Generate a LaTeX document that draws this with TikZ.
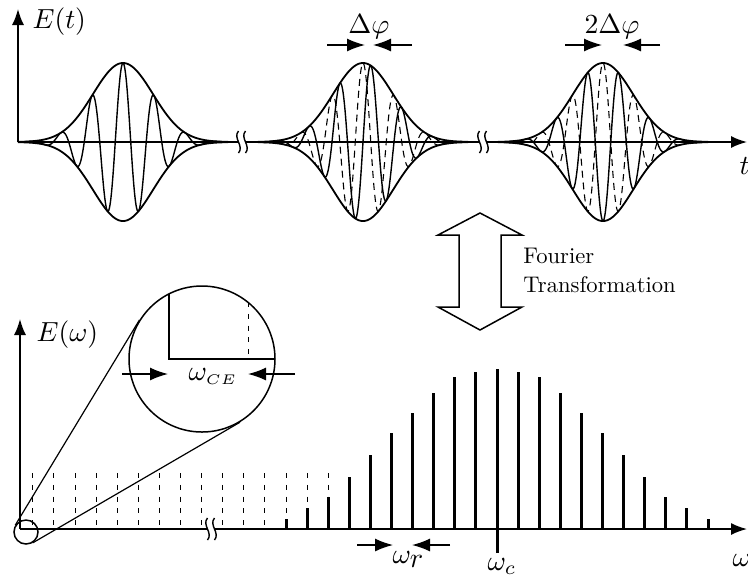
\documentclass[tikz,border=0pt]{standalone}
\usetikzlibrary{arrows.meta}
\begin{document}
\begin{tikzpicture}[x=0.5pt,y=-0.5pt,
  axis/.style={line width=0.8pt,-{Latex[length=8pt,width=6pt]}},
  env/.style={line width=0.9pt},
  carrier/.style={line width=0.7pt},
  carrierd/.style={line width=0.55pt,dash pattern=on 3.5pt off 2.5pt},
  comb/.style={line width=1.5pt},
  combd/.style={line width=0.5pt,dash pattern=on 2.5pt off 3.4pt},
  marker/.style={line width=0.7pt,-{Latex[length=9pt,width=6.5pt]}},
  lbl/.style={inner sep=0pt,anchor=base west,scale=1.38},
  wlbl/.style={inner sep=0pt,anchor=base west,scale=1.4},
  ftext/.style={inner sep=0pt,anchor=base west,scale=1.13},
  brk/.pic={
    \fill[white] (-3.5,-1.6) rectangle (3.5,1.6);
    \draw[line width=0.7pt] (-3.5,-11) .. controls (-9.5,-4) and (2.5,4) .. (-3.5,11);
    \draw[line width=0.7pt] (3.5,-11) .. controls (-2.5,-4) and (9.5,4) .. (3.5,11);
  }]
\useasboundingbox (0,0) rectangle (748,575);

% ---------- top: time domain ----------
\coordinate (Ot) at (18,142);
\coordinate (Yt) at (18,9);
\coordinate (Xt) at (747,142);
\draw[axis] (Ot) -- (Xt);
\draw[axis] (Ot) -- (Yt);
\node[lbl] (Et) at (32,28) {$E(t)$};
\node[lbl] (tl) at (739,174) {$t$};

% pulse 1
\draw[env] plot[domain=-105:105,samples=200] ({123+\x},{142-79*exp(-\x*\x/1800)});
\draw[env] plot[domain=-105:105,samples=200] ({123+\x},{142+79*exp(-\x*\x/1800)});
\draw[carrier] plot[domain=-105:105,samples=401] ({123+\x},{142-79*exp(-\x*\x/1800)*cos(\x/31*360)});

% pulse 2
\draw[env] plot[domain=-105:105,samples=200] ({363+\x},{142-79*exp(-\x*\x/1800)});
\draw[env] plot[domain=-105:105,samples=200] ({363+\x},{142+79*exp(-\x*\x/1800)});
\draw[carrierd] plot[domain=-105:105,samples=401] ({363+\x},{142-79*exp(-\x*\x/1800)*cos(\x/31*360)});
\draw[carrier] plot[domain=-105:105,samples=401] ({363+\x},{142-79*exp(-\x*\x/1800)*sin(\x/31*360)});

% pulse 3
\draw[env] plot[domain=-105:105,samples=200] ({603+\x},{142-79*exp(-\x*\x/1800)});
\draw[env] plot[domain=-105:105,samples=200] ({603+\x},{142+79*exp(-\x*\x/1800)});
\draw[carrierd] plot[domain=-105:105,samples=401] ({603+\x},{142-79*exp(-\x*\x/1800)*cos(\x/31*360)});
\draw[carrier] plot[domain=-105:105,samples=401] ({603+\x},{142+79*exp(-\x*\x/1800)*cos(\x/31*360)});

% axis breaks
\pic at (242,142) {brk};
\pic at (483,142) {brk};

% phase markers
\coordinate (a1s) at (327,45); \coordinate (a1e) at (365,45);
\coordinate (a2s) at (412,45); \coordinate (a2e) at (373,45);
\draw[marker] (a1s) -- (a1e);
\draw[marker] (a2s) -- (a2e);
\node[lbl,anchor=base] (dphi) at (369,33) {$\Delta\varphi$};
\coordinate (b1s) at (565,45); \coordinate (b1e) at (602,45);
\coordinate (b2s) at (660,45); \coordinate (b2e) at (623,45);
\draw[marker] (b1s) -- (b1e);
\draw[marker] (b2s) -- (b2e);
\node[lbl,anchor=base] (ddphi) at (612,33) {$2\Delta\varphi$};

% ---------- Fourier arrow ----------
\draw[line width=0.75pt,line join=miter] (480,213) -- (522,235) -- (501,235) -- (501,307) -- (522,307)
  -- (480,330) -- (438,307) -- (459,307) -- (459,235) -- (438,235) -- cycle;
\node[ftext] (f1) at (523,263) {Fourier};
\node[ftext] (f2) at (523,292) {Transformation};

% ---------- bottom: frequency domain ----------
\coordinate (Ow) at (20,529);
\coordinate (Yw) at (20,319);
\coordinate (Xw) at (747,529);
\foreach \j in {8,...,22}
  \draw[combd] ({497-21.1*\j},473) -- ({497-21.1*\j},529);
\draw[axis] (Ow) -- (Xw);
\draw[axis] (Ow) -- (Yw);
\node[lbl] (Ew) at (36,341) {$E(\omega)$};
\node[wlbl] (wl) at (732,566) {$\omega$};

\foreach \k/\h in {-10/10,-9/21,-8/32,-7/52,-6/74,-5/96,-4/116,-3/136,-2/152,-1/157,
                   1/157,2/152,3/136,4/116,5/96,6/74,7/52,8/32,9/21,10/10}
  \draw[comb] ({497+21.1*\k},529) -- ({497+21.1*\k},{529-\h});
\coordinate (wc1) at (497,553);
\coordinate (wc2) at (497,369);
\draw[comb] (wc1) -- (wc2);
\node[wlbl] (wcl) at (487,570) {$\omega_{c}$};

\pic at (211,529) {brk};

% omega_r markers
\coordinate (r1s) at (357,545); \coordinate (r1e) at (393,545);
\coordinate (r2s) at (450,545); \coordinate (r2e) at (412,545);
\draw[marker] (r1s) -- (r1e);
\draw[marker] (r2s) -- (r2e);
\node[wlbl] (wrl) at (392,563) {$\omega_{\textstyle r}$};

% magnifier
\node[circle,draw,line width=0.75pt,minimum size=12pt,inner sep=0pt] (small) at (26,532) {};
\node[circle,draw,line width=0.75pt,minimum size=73pt,inner sep=0pt] (big) at (202,359) {};
\draw[line width=0.6pt] (small.148.8) -- (big.148.8);
\draw[line width=0.6pt] (small.-59.8) -- (big.-59.8);
\coordinate (iy) at (169,294);
\coordinate (io) at (169,359);
\coordinate (ix) at (275,359);
\draw[line width=0.75pt] (iy) -- (io) -- (ix);
\coordinate (id1) at (248,302);
\coordinate (id2) at (248,359);
\draw[combd] (id1) -- (id2);
\coordinate (c1s) at (122,374); \coordinate (c1e) at (168,374);
\coordinate (c2s) at (295,374); \coordinate (c2e) at (248,374);
\draw[marker] (c1s) -- (c1e);
\draw[marker] (c2s) -- (c2e);
\node[wlbl] (wce) at (188,380) {$\omega_{\scriptscriptstyle CE}$};
\end{tikzpicture}
\end{document}
